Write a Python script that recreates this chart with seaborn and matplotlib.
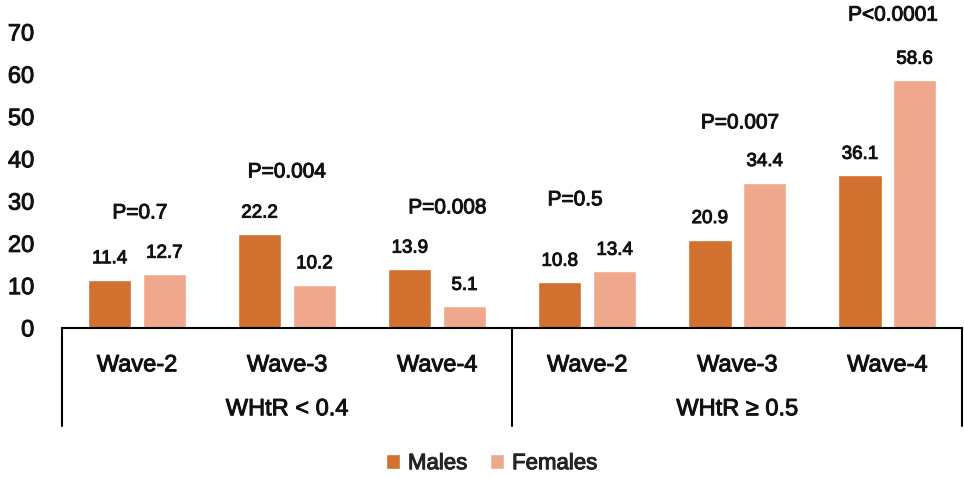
import pandas as pd
import numpy as np
import matplotlib.pyplot as plt
import seaborn as sns
import matplotlib.transforms as mtransforms
import matplotlib.patheffects as pe

waves = ['Wave-2', 'Wave-3', 'Wave-4']
groups = ['WHtR < 0.4', 'WHtR \u2265 0.5']
males = [11.4, 22.2, 13.9, 10.8, 20.9, 36.1]
females = [12.7, 10.2, 5.1, 13.4, 34.4, 58.6]
pvals = ['P=0.7', 'P=0.004', 'P=0.008', 'P=0.5', 'P=0.007', 'P<0.0001']
p_height = [27.2, 36.9, 28.4, 30.3, 48.5, 74.0]
p_shift = [0.02, 0.0, 0.07, -0.08, 0.02, 0.04]

cats = [g + '|' + w for g in groups for w in waves]
df = pd.DataFrame({
    'cat': cats * 2,
    'sex': ['Males'] * 6 + ['Females'] * 6,
    'value': males + females,
})

sns.set_style('white')
plt.rcParams['font.family'] = ['Liberation Sans', 'DejaVu Sans']

# a thin stroke makes the regular face look a bit heavier, like the original
thick = [pe.withStroke(linewidth=0.7, foreground='#111111')]

fig = plt.figure(figsize=(9.64, 4.78), dpi=100)
ax = fig.add_axes([0.0643, 0.314, 0.934, 0.619])

pal = {'Males': '#D1702F', 'Females': '#F0A88C'}
sns.barplot(data=df, x='cat', y='value', hue='sex', order=cats,
            hue_order=['Males', 'Females'], palette=pal, width=0.73, gap=0.21,
            saturation=1, ax=ax)

ax.set_ylim(0, 70)
ax.set_xlim(-0.5, 5.5)
ax.set_yticks(range(0, 71, 10))
ax.tick_params(axis='y', length=0, pad=20, labelsize=17, labelcolor='#111111')
ax.tick_params(axis='x', length=0, pad=19, labelsize=17, labelcolor='#111111')
ax.set_xticks(range(6))
ax.set_xticklabels(waves * 2)
ax.set_xlabel('')
ax.set_ylabel('')
for lab in ax.get_xticklabels() + ax.get_yticklabels():
    lab.set_path_effects(thick)
for s in ['left', 'right', 'top']:
    ax.spines[s].set_visible(False)
ax.spines['bottom'].set_color('black')
ax.spines['bottom'].set_linewidth(1.5)

# value labels
for cont in ax.containers:
    txts = ax.bar_label(cont, fmt='%.1f', padding=9, fontsize=13.5,
                        color='#111111')
    for t in txts:
        t.set_path_effects(thick)

# p-values
for i, (p, h) in enumerate(zip(pvals, p_height)):
    ax.text(i + p_shift[i], h, p, ha='center', va='center', fontsize=15,
            color='#111111', clip_on=False, path_effects=thick)

# separators and group labels below axis
trans = mtransforms.blended_transform_factory(ax.transData, ax.transAxes)
for xv in [-0.5, 2.5, 5.5]:
    ax.plot([xv, xv], [0, -0.33], transform=trans, color='black', lw=1.5,
            clip_on=False)
for j, g in enumerate(groups):
    ax.text(j * 3 + 1, -0.275, g, transform=trans, ha='center', va='center',
            fontsize=17, color='#111111', path_effects=thick)

handles, labels = ax.get_legend_handles_labels()
leg = ax.legend(handles, labels, loc='center', bbox_to_anchor=(0.51, 0.03),
                bbox_transform=fig.transFigure, ncol=2, frameon=False,
                fontsize=16, handlelength=0.65, handleheight=0.65,
                handletextpad=0.35, columnspacing=1.0)
for t in leg.get_texts():
    t.set_path_effects(thick)

plt.savefig('out.png', dpi=100)
